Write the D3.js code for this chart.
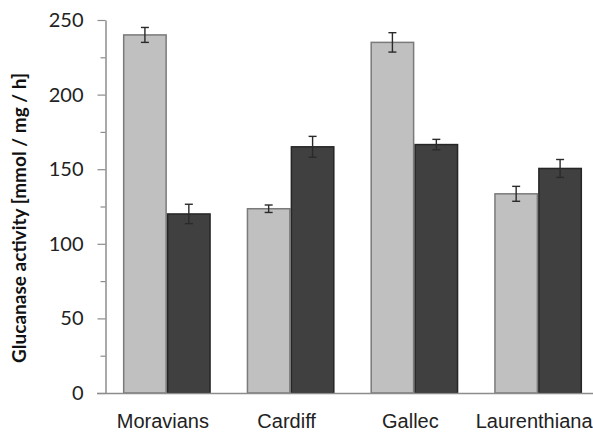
<!DOCTYPE html>
<html><head><meta charset="utf-8">
<script src="https://cdn.jsdelivr.net/npm/d3@7"></script>
<style>body{margin:0;background:#fff}</style>
</head><body>
<svg id="c" width="593" height="434"></svg>
<script>
const categories = ["Moravians", "Cardiff", "Gallec", "Laurenthiana"];
const seriesLight = [240, 123.5, 235, 133.5];
const errLight = [5, 2.5, 6.5, 5];
const seriesDark = [120, 165, 166.5, 150.5];
const errDark = [6.5, 7, 3.5, 6];
const yTicks = [0, 50, 100, 150, 200, 250];
const yMinor = [25, 75, 125, 175, 225];

const svg = d3.select("#c");
const y = d3.scaleLinear().domain([0, 250]).range([393, 20]);
const x = d3.scaleBand().domain(categories).range([105, 600]).paddingInner(0.29).paddingOuter(0.145);
const xs = d3.scaleBand().domain(["light", "dark"]).range([0, x.bandwidth()]);

const axisColor = "#8c8c8c";

// y axis
const ya = svg.append("g").attr("transform", "translate(105.5,0)")
  .call(d3.axisLeft(y).tickValues(yTicks).tickSize(8).tickSizeOuter(0).tickPadding(14).tickFormat(d3.format("d")));
ya.select(".domain").attr("stroke", axisColor).attr("stroke-width", 1.5);
ya.selectAll(".tick line").attr("stroke", axisColor).attr("stroke-width", 1.2);
ya.selectAll(".tick text").attr("font-family", "Lato, sans-serif").attr("font-size", 20).attr("fill", "#222");
const ym = svg.append("g").attr("transform", "translate(105.5,0)")
  .call(d3.axisLeft(y).tickValues(yMinor).tickSize(5).tickSizeOuter(0).tickFormat(""));
ym.select(".domain").remove();
ym.selectAll(".tick line").attr("stroke", axisColor).attr("stroke-width", 1.2);

// bars
const groups = svg.append("g").selectAll("g").data(categories).join("g")
  .attr("transform", d => `translate(${x(d)},0)`);
const styles = {light: {fill: "#c0c0c0", stroke: "#7a7a7a"}, dark: {fill: "#404040", stroke: "#262626"}};
function barData(i) {
  return [
    {k: "light", v: seriesLight[i], e: errLight[i]},
    {k: "dark", v: seriesDark[i], e: errDark[i]}
  ];
}
groups.each(function(c, i) {
  const g = d3.select(this);
  const bd = barData(i);
  g.selectAll("rect").data(bd).join("rect")
    .attr("x", d => xs(d.k) + 0.75)
    .attr("width", xs.bandwidth() - 1.5)
    .attr("y", d => y(d.v))
    .attr("height", d => y(0) - y(d.v))
    .attr("fill", d => styles[d.k].fill)
    .attr("stroke", d => styles[d.k].stroke)
    .attr("stroke-width", 1.5);
  const eb = g.selectAll("g.err").data(bd).join("g").attr("class", "err")
    .attr("stroke", "#2a2a2a").attr("stroke-width", 1.4);
  const cx = d => xs(d.k) + xs.bandwidth() / 2;
  eb.append("line").attr("x1", cx).attr("x2", cx).attr("y1", d => y(d.v + d.e)).attr("y2", d => y(d.v - d.e));
  eb.append("line").attr("x1", d => cx(d) - 4).attr("x2", d => cx(d) + 4).attr("y1", d => y(d.v + d.e)).attr("y2", d => y(d.v + d.e));
  eb.append("line").attr("x1", d => cx(d) - 4).attr("x2", d => cx(d) + 4).attr("y1", d => y(d.v - d.e)).attr("y2", d => y(d.v - d.e));
});

// x axis
svg.append("line").attr("x1", 97).attr("x2", 593).attr("y1", y(0) + 0.5).attr("y2", y(0) + 0.5)
  .attr("stroke", axisColor).attr("stroke-width", 1.5);
svg.append("g").selectAll("text").data(categories).join("text")
  .attr("x", d => x(d) + x.bandwidth() / 2 - 4)
  .attr("y", 428)
  .attr("text-anchor", "middle")
  .attr("font-family", "Liberation Sans, Arial, sans-serif")
  .attr("font-size", 20)
  .attr("fill", "#222")
  .text(d => d);

// y title
svg.append("text")
  .attr("transform", "translate(26,218) rotate(-90)")
  .attr("text-anchor", "middle")
  .attr("font-family", "Lato, sans-serif")
  .attr("font-weight", "bold")
  .attr("font-size", 19)
  .attr("fill", "#111")
  .text("Glucanase activity [mmol / mg / h]");
</script>
</body></html>
